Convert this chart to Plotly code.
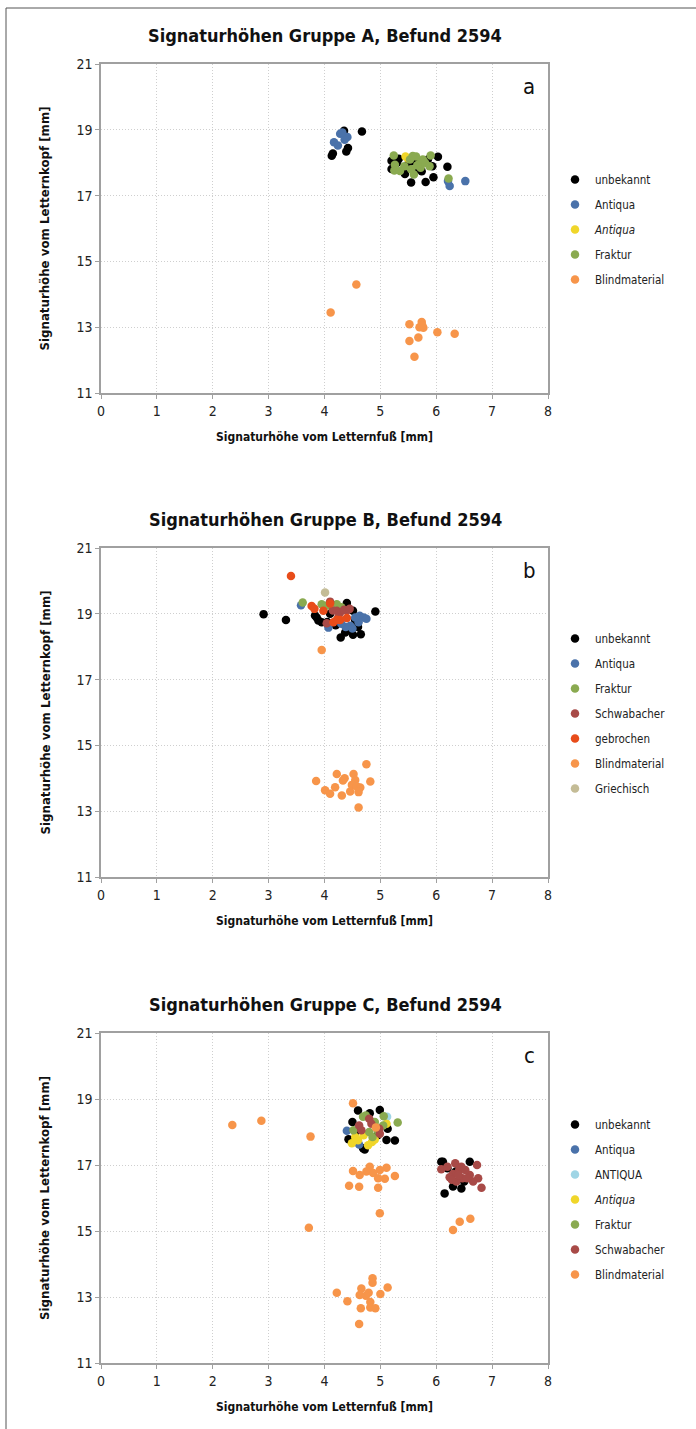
import plotly.graph_objects as go

W, H = 696, 1429

# ---------------- Panel A: Gruppe A ----------------
A_unbekannt_x = [4.13, 4.35, 4.67, 4.39, 4.15, 4.42, 5.20, 5.20, 5.44, 5.55, 5.81, 5.95, 6.03, 6.20, 5.74, 5.93, 5.33, 5.60, 5.50, 5.85, 5.65, 5.30]
A_unbekannt_y = [18.21, 18.97, 18.95, 18.34, 18.28, 18.45, 18.06, 17.81, 17.66, 17.40, 17.41, 17.56, 18.18, 17.88, 17.74, 17.89, 18.12, 18.05, 17.95, 18.10, 17.80, 18.00]
A_antiqua_x = [4.17, 4.24, 4.28, 4.41, 4.36, 4.32, 6.21, 6.24, 6.52]
A_antiqua_y = [18.62, 18.52, 18.88, 18.78, 18.70, 18.92, 17.44, 17.29, 17.44]
A_antiqua_it_x = [5.45, 5.50]
A_antiqua_it_y = [18.19, 18.12]
A_fraktur_x = [5.24, 5.64, 5.90, 5.26, 5.25, 5.43, 5.60, 5.72, 5.80, 5.70, 5.88, 5.53, 6.22, 5.55, 5.76, 5.35, 5.58, 5.66]
A_fraktur_y = [18.22, 18.19, 18.22, 17.94, 17.76, 17.89, 17.64, 17.85, 18.00, 17.97, 17.89, 18.10, 17.52, 17.80, 18.10, 17.75, 18.20, 17.92]
A_blind_x = [4.57, 4.11, 5.52, 5.74, 5.70, 5.77, 6.02, 6.33, 5.52, 5.68, 5.61, 5.75]
A_blind_y = [14.30, 13.45, 13.09, 13.16, 13.00, 12.98, 12.85, 12.80, 12.58, 12.69, 12.10, 13.05]

# ---------------- Panel B: Gruppe B ----------------
B_unbekannt_x = [2.91, 3.31, 4.91, 4.29, 4.51, 4.65, 4.37, 3.86, 3.95, 4.40, 4.51, 3.83, 3.89, 4.05, 4.20, 4.45, 4.10, 4.55, 4.60]
B_unbekannt_y = [18.99, 18.81, 19.07, 18.28, 18.36, 18.38, 18.43, 18.89, 18.74, 19.33, 19.09, 18.95, 18.80, 18.75, 18.65, 18.50, 19.00, 18.80, 18.60]
B_antiqua_x = [3.58, 4.63, 4.70, 4.46, 4.07, 4.61, 4.55, 4.38, 4.50, 4.75, 4.30]
B_antiqua_y = [19.26, 18.94, 18.89, 18.64, 18.58, 18.74, 18.89, 18.60, 18.55, 18.85, 18.70]
B_fraktur_x = [3.61, 3.95, 4.22, 4.05, 4.30]
B_fraktur_y = [19.34, 19.29, 19.29, 19.25, 19.20]
B_schwab_x = [4.10, 4.22, 4.40, 4.04, 4.28, 4.15, 4.35, 4.45, 4.25]
B_schwab_y = [19.37, 19.09, 19.09, 18.71, 19.04, 19.10, 19.12, 19.15, 18.90]
B_gebrochen_x = [3.40, 3.77, 3.98, 4.10, 4.16, 4.28, 4.40, 3.82, 4.22]
B_gebrochen_y = [20.15, 19.24, 19.09, 19.31, 18.74, 18.81, 18.87, 19.15, 18.82]
B_blind_x = [3.95, 3.85, 4.01, 4.10, 4.19, 4.22, 4.31, 4.33, 4.36, 4.52, 4.55, 4.49, 4.46, 4.58, 4.64, 4.61, 4.75, 4.82, 4.61]
B_blind_y = [17.90, 13.92, 13.64, 13.53, 13.73, 14.13, 13.48, 13.93, 14.00, 14.13, 13.95, 13.80, 13.60, 13.75, 13.72, 13.58, 14.43, 13.90, 13.11]
B_griech_x = [4.01]
B_griech_y = [19.65]

# ---------------- Panel C: Gruppe C ----------------
C_unbekannt_x = [4.60, 4.99, 4.81, 4.43, 4.50, 4.72, 5.11, 5.26, 5.13, 4.69, 4.55, 4.95,
                 6.12, 6.60, 6.15, 6.45, 6.30, 6.20, 6.50, 6.35, 6.09]
C_unbekannt_y = [18.65, 18.67, 18.57, 17.78, 18.30, 17.47, 17.76, 17.74, 18.10, 17.51, 18.00, 17.90,
                 17.10, 17.10, 16.14, 16.29, 16.35, 16.90, 16.50, 16.80, 17.10]
C_antiqua_x = [4.40, 4.62]
C_antiqua_y = [18.04, 17.62]
C_ANTIQUA_x = [5.12]
C_ANTIQUA_y = [18.46]
C_antiqua_it_x = [4.49, 4.60, 4.85, 5.11, 4.90, 4.70, 4.55, 4.78]
C_antiqua_it_y = [17.66, 17.75, 17.70, 18.25, 17.77, 17.90, 17.85, 17.60]
C_fraktur_x = [5.31, 4.74, 5.06, 4.52, 4.80, 4.90, 4.69, 5.05, 4.95, 4.86]
C_fraktur_y = [18.29, 18.50, 18.48, 18.05, 18.00, 18.30, 18.46, 18.20, 18.05, 17.85]
C_schwab_x = [4.62, 4.66, 4.84, 4.98, 4.99, 4.80,
              6.09, 6.34, 6.73, 6.75, 6.81, 6.60, 6.66, 6.30, 6.41, 6.24, 6.47, 6.36, 6.52, 6.20, 6.45, 6.55, 6.28, 6.40]
C_schwab_y = [18.20, 18.05, 18.25, 18.10, 17.95, 18.40,
              16.87, 17.05, 17.00, 16.60, 16.31, 16.70, 16.50, 16.73, 16.85, 16.63, 16.60, 16.50, 16.85, 16.95, 16.95, 16.60, 16.55, 16.70]
C_blind_x = [4.51, 4.92, 2.35, 2.87, 3.75,
             4.81, 5.11, 4.51, 5.26, 4.63, 4.75, 4.87, 4.99, 4.96, 5.08, 4.44, 4.62, 4.96,
             4.99, 3.72, 6.30, 6.42, 6.61,
             4.86, 4.86, 5.13, 4.66, 4.22, 4.79, 5.00, 4.63, 4.74, 4.41, 4.82, 4.65, 4.82, 4.91, 4.62]
C_blind_y = [18.87, 18.14, 18.21, 18.34, 17.86,
             16.95, 16.92, 16.82, 16.67, 16.70, 16.80, 16.76, 16.85, 16.60, 16.58, 16.37, 16.34, 16.31,
             15.54, 15.10, 15.03, 15.28, 15.37,
             13.57, 13.43, 13.29, 13.26, 13.13, 13.13, 13.09, 13.06, 13.04, 12.87, 12.85, 12.66, 12.68, 12.66, 12.18]

TITLES = ["Signaturhöhen Gruppe A, Befund 2594",
          "Signaturhöhen Gruppe B, Befund 2594",
          "Signaturhöhen Gruppe C, Befund 2594"]
LETTERS = ["a", "b", "c"]
X_TITLE = "Signaturhöhe vom Letternfuß [mm]"
Y_TITLE = "Signaturhöhe vom Letternkopf [mm]"
X_TICKS = [0, 1, 2, 3, 4, 5, 6, 7, 8]
Y_TICKS = [11, 13, 15, 17, 19, 21]

COL = {
    "unbekannt": "#000000",
    "Antiqua": "#4a72aa",
    "ANTIQUA": "#9fd5e5",
    "AntiquaIt": "#f0d62a",
    "Fraktur": "#8aaa50",
    "Schwabacher": "#a84a47",
    "gebrochen": "#e84c1a",
    "Blindmaterial": "#f7954a",
    "Griechisch": "#c4bc96",
}

COND = "Liberation Sans Narrow, DejaVu Sans Condensed, Arial Narrow, sans-serif"
WIDE = "DejaVu Sans, Verdana, sans-serif"

panels = [
    [("unbekannt", "unbekannt", A_unbekannt_x, A_unbekannt_y),
     ("Antiqua", "Antiqua", A_antiqua_x, A_antiqua_y),
     ("<i>Antiqua</i>", "AntiquaIt", A_antiqua_it_x, A_antiqua_it_y),
     ("Fraktur", "Fraktur", A_fraktur_x, A_fraktur_y),
     ("Blindmaterial", "Blindmaterial", A_blind_x, A_blind_y)],
    [("unbekannt", "unbekannt", B_unbekannt_x, B_unbekannt_y),
     ("Antiqua", "Antiqua", B_antiqua_x, B_antiqua_y),
     ("Fraktur", "Fraktur", B_fraktur_x, B_fraktur_y),
     ("Schwabacher", "Schwabacher", B_schwab_x, B_schwab_y),
     ("gebrochen", "gebrochen", B_gebrochen_x, B_gebrochen_y),
     ("Blindmaterial", "Blindmaterial", B_blind_x, B_blind_y),
     ("Griechisch", "Griechisch", B_griech_x, B_griech_y)],
    [("unbekannt", "unbekannt", C_unbekannt_x, C_unbekannt_y),
     ("Antiqua", "Antiqua", C_antiqua_x, C_antiqua_y),
     ("ANTIQUA", "ANTIQUA", C_ANTIQUA_x, C_ANTIQUA_y),
     ("<i>Antiqua</i>", "AntiquaIt", C_antiqua_it_x, C_antiqua_it_y),
     ("Fraktur", "Fraktur", C_fraktur_x, C_fraktur_y),
     ("Schwabacher", "Schwabacher", C_schwab_x, C_schwab_y),
     ("Blindmaterial", "Blindmaterial", C_blind_x, C_blind_y)],
]

# pixel layout of each panel: (top of plot, bottom of plot)
PLOT_TB = [(64, 393), (548, 877), (1033, 1363)]
PLOT_LR = (101, 548)
LEGEND_TOP = [165, 624, 1110]

fig = go.Figure()
for i, series in enumerate(panels):
    sfx = "" if i == 0 else str(i + 1)
    for label, key, xs, ys in series:
        fig.add_trace(go.Scatter(
            x=xs, y=ys, mode="markers", name=label,
            marker=dict(color=COL[key], size=8.5, line=dict(width=0)),
            xaxis="x" + sfx, yaxis="y" + sfx,
            legend="legend" + sfx, legendgroup=f"{i}_{key}",
        ))

layout = dict(
    width=W, height=H, autosize=False,
    margin=dict(l=0, r=0, t=0, b=0),
    paper_bgcolor="white", plot_bgcolor="white",
    showlegend=True,
)

def px2py(p):
    return 1 - p / H

annotations = []
shapes = []
for i in range(3):
    sfx = "" if i == 0 else str(i + 1)
    top, bot = PLOT_TB[i]
    axis_common = dict(
        showgrid=True, gridcolor="#cfcfcf", griddash="1px,2px", gridwidth=1,
        showline=True, mirror=True, linecolor="#a0a0a0", linewidth=1.5,
        ticks="outside", ticklen=4, tickcolor="#a0a0a0", zeroline=False,
        tickfont=dict(family=COND, size=14, color="#222"), automargin=False,
    )
    layout["xaxis" + sfx] = dict(
        domain=[PLOT_LR[0] / W, PLOT_LR[1] / W], anchor="y" + sfx,
        range=[0, 8], tickvals=X_TICKS, **axis_common,
    )
    layout["yaxis" + sfx] = dict(
        domain=[px2py(bot), px2py(top)], anchor="x" + sfx,
        range=[11, 21], tickvals=Y_TICKS, **axis_common,
    )
    layout["legend" + sfx] = dict(
        x=555 / W, xanchor="left", y=px2py(LEGEND_TOP[i]), yanchor="top",
        font=dict(family=COND, size=11.5, color="#222"), bgcolor="rgba(0,0,0,0)",
        tracegroupgap=6, traceorder="grouped",
    )
    mid = (top + bot) / 2
    annotations += [
        dict(text=f"<b>{TITLES[i]}</b>", x=325 / W, y=px2py(top - 29), xref="paper", yref="paper",
             showarrow=False, xanchor="center", yanchor="middle",
             font=dict(family=COND, size=18, color="#111")),
        dict(text=f"<b>{X_TITLE}</b>", x=324 / W, y=px2py(bot + 44), xref="paper", yref="paper",
             showarrow=False, xanchor="center", yanchor="middle",
             font=dict(family=COND, size=12, color="#111")),
        dict(text=f"<b>{Y_TITLE}</b>", x=45 / W, y=px2py(mid), xref="paper", yref="paper",
             showarrow=False, xanchor="center", yanchor="middle", textangle=-90,
             font=dict(family=WIDE, size=11.8, color="#111")),
        dict(text=LETTERS[i], x=529 / W, y=px2py(top + 22), xref="paper", yref="paper",
             showarrow=False, xanchor="center", yanchor="middle",
             font=dict(family=COND, size=22, color="#111")),
    ]

# outer frame (left and top edges)
shapes += [
    dict(type="line", xref="paper", yref="paper", x0=6 / W, x1=1.0, y0=px2py(8), y1=px2py(8),
         line=dict(color="#555555", width=1)),
    dict(type="line", xref="paper", yref="paper", x0=6 / W, x1=6 / W, y0=px2py(8), y1=0.0,
         line=dict(color="#555555", width=1)),
]

layout["annotations"] = annotations
layout["shapes"] = shapes
fig.update_layout(**layout)
fig.write_html("out.html", config={"displayModeBar": False},
               post_script="document.body.style.margin='0px';")
